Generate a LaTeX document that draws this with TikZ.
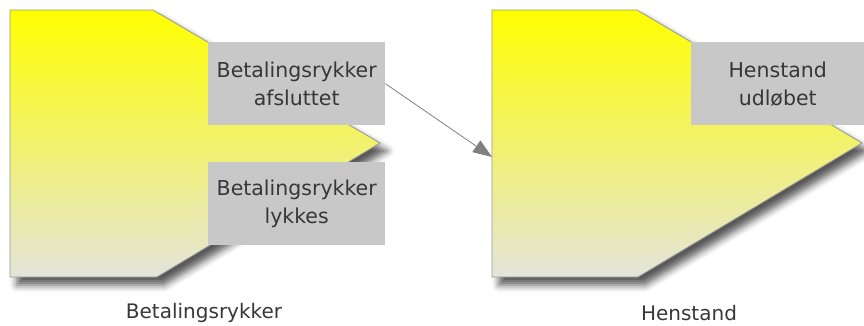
\documentclass[tikz,border=0pt]{standalone}
\usepackage{fontspec}
\setmainfont{DejaVu Sans}
\usetikzlibrary{arrows.meta,shadows.blur}
\definecolor{tagfill}{RGB}{200,200,200}
\definecolor{txtcol}{RGB}{55,55,55}
\definecolor{yeltop}{RGB}{255,255,0}
\definecolor{yelmid}{RGB}{240,240,100}
\definecolor{yelbot}{RGB}{228,228,220}
\definecolor{edgecol}{RGB}{150,150,150}
\definecolor{arrowcol}{RGB}{128,128,128}
\tikzset{
  phase/.style={draw=edgecol, line width=0.8pt,
    top color=yeltop, middle color=yelmid, bottom color=yelbot,
    blur shadow={shadow xshift=7pt, shadow yshift=-8pt,
      shadow blur radius=7pt, shadow opacity=65}},
  tag/.style={fill=tagfill, anchor=north west, align=center, inner sep=0pt,
    text=txtcol, font=\fontsize{20.5}{28}\selectfont},
  caption/.style={text=txtcol, font=\fontsize{20}{22}\selectfont},
  flow/.style={draw=arrowcol, line width=0.8pt,
    -{Triangle[length=19pt,width=14pt]}, arrowcol}
}
\begin{document}
\begin{tikzpicture}[x=1pt,y=-1pt]
\useasboundingbox (0,0) rectangle (864,326);
% phase shapes
\path[phase] (10,10) -- (153,10) -- (380,143) -- (157,277) -- (10,277) -- cycle;
\path[phase] (492,10) -- (637,10) -- (862,143) -- (638,277) -- (492,277) -- cycle;
% exit tags
\node[tag, minimum width=177pt, minimum height=83pt] (bra) at (208,42) {Betalingsrykker\\afsluttet};
\node[tag, minimum width=177pt, minimum height=83pt] (brl) at (208,162) {Betalingsrykker\\lykkes};
\node[tag, minimum width=173pt, minimum height=83pt] (hu) at (691,42) {Henstand\\udløbet};
% captions
\node[caption] (capb) at (204,313) {Betalingsrykker};
\node[caption] (caph) at (689,313) {Henstand};
% transition
\coordinate (henin) at (492,157);
\draw[flow] (bra.east) -- (henin);
\end{tikzpicture}
\end{document}
